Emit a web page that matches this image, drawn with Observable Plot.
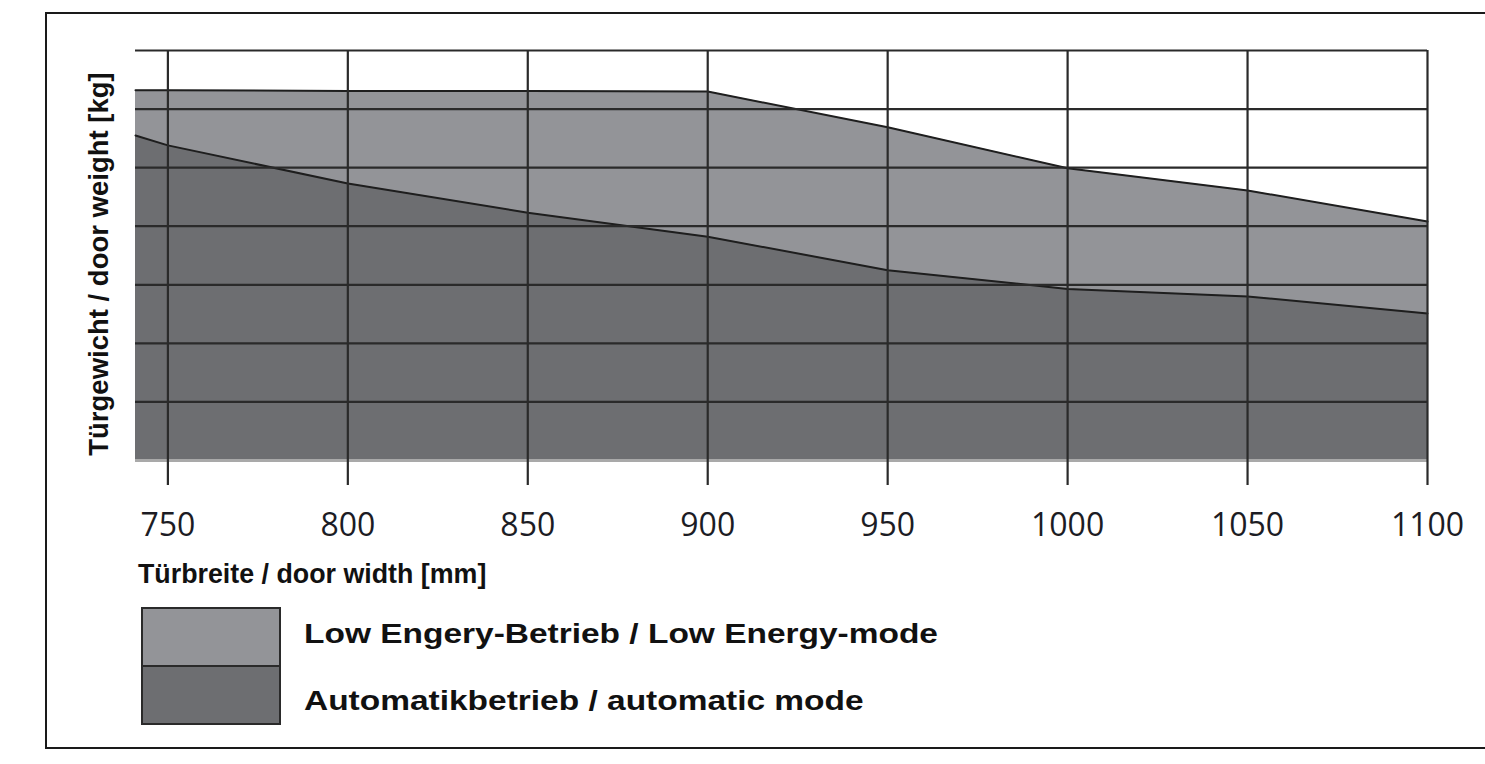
<!DOCTYPE html>
<html><head><meta charset="utf-8">
<script src="https://cdn.jsdelivr.net/npm/d3@7"></script>
<script src="https://cdn.jsdelivr.net/npm/@observablehq/plot@0.6"></script>
<style>
html,body{margin:0;padding:0;background:#fff;overflow:hidden;}
body{width:1485px;height:764px;position:relative;font-family:"Liberation Sans",Arial,sans-serif;color:#111;}
.fl{position:absolute;background:#1a1a1a;}
#chart{position:absolute;left:0;top:0;}
#ylabel{position:absolute;left:99px;top:264px;transform:translate(-50%,-50%) rotate(-90deg);white-space:nowrap;font-weight:bold;font-size:27.5px;}
#xlabel{position:absolute;left:138px;top:574px;transform:translateY(-50%);white-space:nowrap;font-weight:bold;font-size:26.8px;}
.box{position:absolute;left:141px;width:140px;border:2px solid #2a2a2a;box-sizing:border-box;}
.lt{position:absolute;left:304px;transform-origin:0 50%;transform:translateY(-50%) scaleX(1.195);white-space:nowrap;font-weight:bold;font-size:28px;}
</style>
</head><body>
<div class="fl" style="left:45px;top:12px;width:1500px;height:2px;"></div>
<div class="fl" style="left:45px;top:12px;width:2px;height:737px;"></div>
<div class="fl" style="left:45px;top:747px;width:1500px;height:2px;"></div>
<div id="chart"></div>
<div id="ylabel"></div>
<div id="xlabel"></div>
<div id="legend"></div>
<script>
// Data (y in grid units, 10 per gridline; the y axis has no labels)
const widths = [741, 750, 800, 850, 900, 950, 1000, 1050, 1100];
const lowEnergy = [63.2, 63.2, 63.1, 63.1, 63.0, 56.9, 49.9, 46.1, 40.8];
const automatic = [55.5, 53.8, 47.3, 42.3, 38.2, 32.5, 29.3, 28.0, 25.1];
const xTicks = [750, 800, 850, 900, 950, 1000, 1050, 1100];
const yGrid = [0, 10, 20, 30, 40, 50, 60, 70];
const seriesNames = ["Low Engery-Betrieb / Low Energy-mode", "Automatikbetrieb / automatic mode"];
const seriesColors = ["#939498", "#6d6e71"];
const yTitle = "Türgewicht / door weight [kg]";
const xTitle = "Türbreite / door width [mm]";

const rows = widths.map((w, i) => ({w, low: lowEnergy[i], auto: automatic[i]}));

const chart = Plot.plot({
  width: 1485,
  height: 545,
  marginLeft: 135,
  marginRight: 58,
  marginTop: 50,
  marginBottom: 85,
  x: {domain: [741, 1100]},
  y: {domain: [0, 70], axis: null},
  marks: [
    Plot.areaY(rows, {x: "w", y: "low", fill: seriesColors[0]}),
    Plot.areaY(rows, {x: "w", y: "auto", fill: seriesColors[1]}),
    Plot.lineY(rows, {x: "w", y: "low", stroke: "#1e1e1e", strokeWidth: 2}),
    Plot.lineY(rows, {x: "w", y: "auto", stroke: "#1e1e1e", strokeWidth: 2}),
    Plot.ruleY(yGrid.filter(d => d > 0), {stroke: "#2a2a2a", strokeWidth: 2.2}),
    Plot.ruleY([0], {stroke: "#a9a9a9", strokeWidth: 3}),
    Plot.ruleX(xTicks, {y1: 0, y2: 70, stroke: "#2a2a2a", strokeWidth: 2.2}),
    Plot.axisX(xTicks, {tickSize: 25, tickPadding: 28, strokeWidth: 2.2, stroke: "#2a2a2a", fill: "#1c1c24", fontSize: 32, fontFamily: "Open Sans", tickFormat: d => String(d), label: null})
  ],
  style: {background: "transparent", overflow: "visible"}
});
document.getElementById("chart").appendChild(chart);
document.getElementById("ylabel").textContent = yTitle;
document.getElementById("xlabel").textContent = xTitle;

const legend = document.getElementById("legend");
const boxTops = [607, 665];
const boxHeights = [60, 60];
const textCenters = [634, 701];
seriesNames.forEach((name, i) => {
  const b = document.createElement("div");
  b.className = "box";
  b.style.top = boxTops[i] + "px";
  b.style.height = boxHeights[i] + "px";
  b.style.background = seriesColors[i];
  legend.appendChild(b);
  const t = document.createElement("div");
  t.className = "lt";
  t.style.top = textCenters[i] + "px";
  t.textContent = name;
  legend.appendChild(t);
});
</script>
</body></html>
